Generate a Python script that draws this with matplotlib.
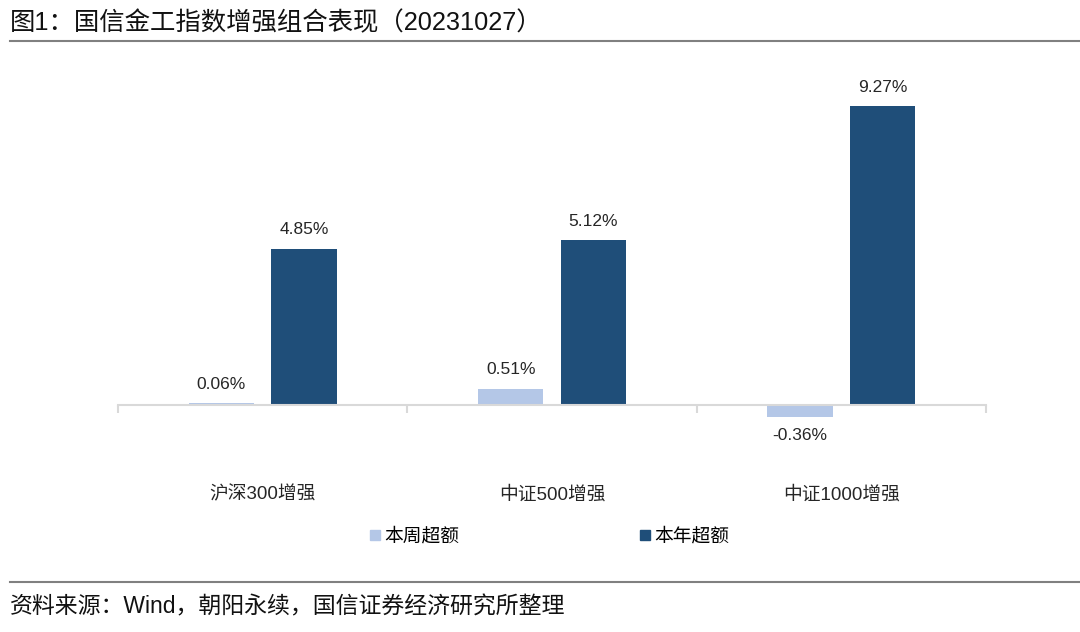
import numpy as np
import matplotlib.pyplot as plt
from matplotlib.lines import Line2D

plt.rcParams['font.family'] = ['Liberation Sans', 'Noto Sans CJK SC', 'DejaVu Sans']

categories = ['沪深300增强', '中证500增强', '中证1000增强']
week_excess = [0.06, 0.51, -0.36]
year_excess = [4.85, 5.12, 9.27]
series_names = ['本周超额', '本年超额']
light = '#b4c7e7'
dark = '#1f4e79'

fig = plt.figure(figsize=(10.8, 6.32), dpi=100)
ax = fig.add_axes([118 / 1080, (632 - 469.5) / 632, 868 / 1080, (469.5 - 66.4) / 632])

x = np.arange(len(categories)) + 0.5
w = 0.225
off = 0.143
b1 = ax.bar(x - off, week_excess, w, color=light)
b2 = ax.bar(x + off, year_excess, w, color=dark)

for bars, vals in [(b1, week_excess), (b2, year_excess)]:
    for r, v in zip(bars, vals):
        cx = r.get_x() + r.get_width() / 2
        if v >= 0:
            ax.annotate('%.2f%%' % v, (cx, v), xytext=(0, 8), textcoords='offset points',
                        ha='center', va='bottom', fontsize=12.5, color='#262626')
        else:
            ax.annotate('%.2f%%' % v, (cx, v), xytext=(0, -8), textcoords='offset points',
                        ha='center', va='top', fontsize=12.5, color='#262626')

ax.set_xlim(0, 3)
ax.set_ylim(-2, 10.5)
for s in ['top', 'right', 'left']:
    ax.spines[s].set_visible(False)
ax.spines['bottom'].set_position(('data', 0))
ax.spines['bottom'].set_color('#d9d9d9')
ax.spines['bottom'].set_linewidth(1.5)
ax.set_yticks([])
ax.set_xticks([0, 1, 2, 3])
ax.set_xticklabels([])
ax.tick_params(axis='x', which='major', length=6, width=1.5, color='#d9d9d9')
ax.set_xticks(x, minor=True)
ax.set_xticklabels(categories, minor=True, fontsize=13.5, color='#262626')
ax.tick_params(axis='x', which='minor', length=0, pad=58.5)

handles = [Line2D([], [], marker='s', linestyle='', color=c, markersize=7) for c in [light, dark]]
fig.legend(handles, series_names, loc='center', bbox_to_anchor=(548 / 1080, 1 - 537 / 632),
           ncol=2, frameon=False, fontsize=13.5, handletextpad=0.1, columnspacing=9.5,
           handlelength=0.8)

fig.text(10 / 1080, 1 - 23 / 632, '图1：国信金工指数增强组合表现（20231027）', fontsize=18.3,
         ha='left', va='center', color='#111111')
fig.add_artist(Line2D([10 / 1080, 1.0], [1 - 41 / 632, 1 - 41 / 632], color='#808080', linewidth=1.5))
fig.add_artist(Line2D([10 / 1080, 1.0], [1 - 582 / 632, 1 - 582 / 632], color='#808080', linewidth=1.5))
fig.text(10 / 1080, 1 - 607 / 632, '资料来源：Wind，朝阳永续，国信证券经济研究所整理', fontsize=16.5,
         ha='left', va='center', color='#111111')

fig.savefig('out.png', dpi=100)
